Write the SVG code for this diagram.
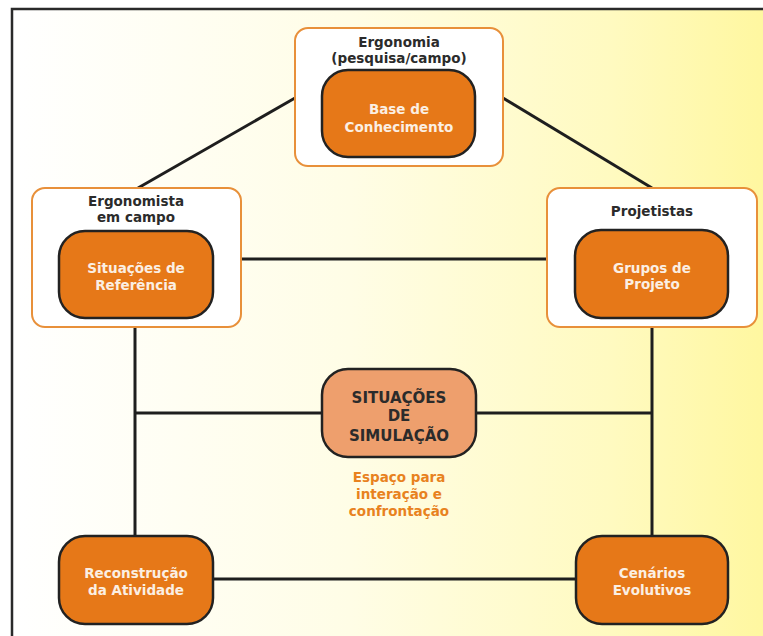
<svg xmlns="http://www.w3.org/2000/svg" width="763" height="636" viewBox="0 0 763 636">
  <defs>
    <linearGradient id="bg" x1="0" y1="0" x2="1" y2="0">
      <stop offset="0" stop-color="#ffffff"/>
      <stop offset="0.45" stop-color="#fffde6"/>
      <stop offset="0.8" stop-color="#fffac0"/>
      <stop offset="1" stop-color="#fff7a0"/>
    </linearGradient>
    <style>
      .frame { fill: none; stroke: #2a2a2a; stroke-width: 2.5; }
      .group { fill: #ffffff; stroke: #e8903a; stroke-width: 2; }
      .core { fill: #e67818; stroke: #222222; stroke-width: 2.5; }
      .sim { fill: #ee9f6d; stroke: #222222; stroke-width: 2.5; }
      .link { stroke: #1e1e1e; stroke-width: 3; fill: none; }
      text { font-family: "DejaVu Sans", Verdana, sans-serif; font-weight: bold; text-anchor: middle; }
      .cap { font-size: 13.5px; fill: #2b2b2b; }
      .in { font-size: 13.5px; fill: #fbefe3; }
      .big { font-size: 15px; fill: #2b2b2b; }
      .note { font-size: 13.5px; fill: #e8821e; }
    </style>
  </defs>

  <!-- page background and frame -->
  <rect x="0" y="0" width="763" height="636" fill="#ffffff"/>
  <rect x="12" y="9" width="751" height="627" fill="url(#bg)"/>
  <path class="frame" d="M12 636 V9 H763"/>

  <!-- connectors -->
  <g id="connectors">
    <line class="link" x1="295" y1="98" x2="138" y2="188"/>
    <line class="link" x1="503" y1="98" x2="652" y2="188"/>
    <line class="link" x1="241" y1="259" x2="547" y2="259"/>
    <line class="link" x1="135" y1="327" x2="135" y2="536"/>
    <line class="link" x1="652" y1="327" x2="652" y2="536"/>
    <line class="link" x1="135" y1="413" x2="322" y2="413"/>
    <line class="link" x1="476" y1="413" x2="652" y2="413"/>
    <line class="link" x1="213" y1="579" x2="576" y2="579"/>
  </g>

  <g id="ergonomia">
    <rect class="group" x="295" y="28" width="208" height="138" rx="13"/>
    <text class="cap" x="399" y="47">Ergonomia</text>
    <text class="cap" x="399" y="63">(pesquisa/campo)</text>
    <rect class="core" x="322" y="70" width="153" height="87" rx="26"/>
    <text class="in" x="399" y="114">Base de</text>
    <text class="in" x="399" y="132">Conhecimento</text>
  </g>

  <g id="ergonomista">
    <rect class="group" x="32" y="188" width="209" height="139" rx="13"/>
    <text class="cap" x="136" y="206">Ergonomista</text>
    <text class="cap" x="136" y="222">em campo</text>
    <rect class="core" x="59" y="231" width="154" height="87" rx="26"/>
    <text class="in" x="136" y="273">Situações de</text>
    <text class="in" x="136" y="290">Referência</text>
  </g>

  <g id="projetistas">
    <rect class="group" x="547" y="188" width="210" height="139" rx="13"/>
    <text class="cap" x="652" y="216">Projetistas</text>
    <rect class="core" x="575" y="230" width="153" height="88" rx="26"/>
    <text class="in" x="652" y="273">Grupos de</text>
    <text class="in" x="652" y="289">Projeto</text>
  </g>

  <g id="simulacao">
    <rect class="sim" x="322" y="369" width="154" height="88" rx="26"/>
    <text class="big" x="399" y="403">SITUAÇÕES</text>
    <text class="big" x="399" y="421">DE</text>
    <text class="big" x="399" y="441">SIMULAÇÃO</text>
    <text class="note" x="399" y="482">Espaço para</text>
    <text class="note" x="399" y="499">interação e</text>
    <text class="note" x="399" y="516">confrontação</text>
  </g>

  <g id="reconstrucao">
    <rect class="core" x="59" y="536" width="154" height="88" rx="26"/>
    <text class="in" x="136" y="578">Reconstrução</text>
    <text class="in" x="136" y="595">da Atividade</text>
  </g>

  <g id="cenarios">
    <rect class="core" x="576" y="536" width="152" height="88" rx="26"/>
    <text class="in" x="652" y="578">Cenários</text>
    <text class="in" x="652" y="595">Evolutivos</text>
  </g>
</svg>
